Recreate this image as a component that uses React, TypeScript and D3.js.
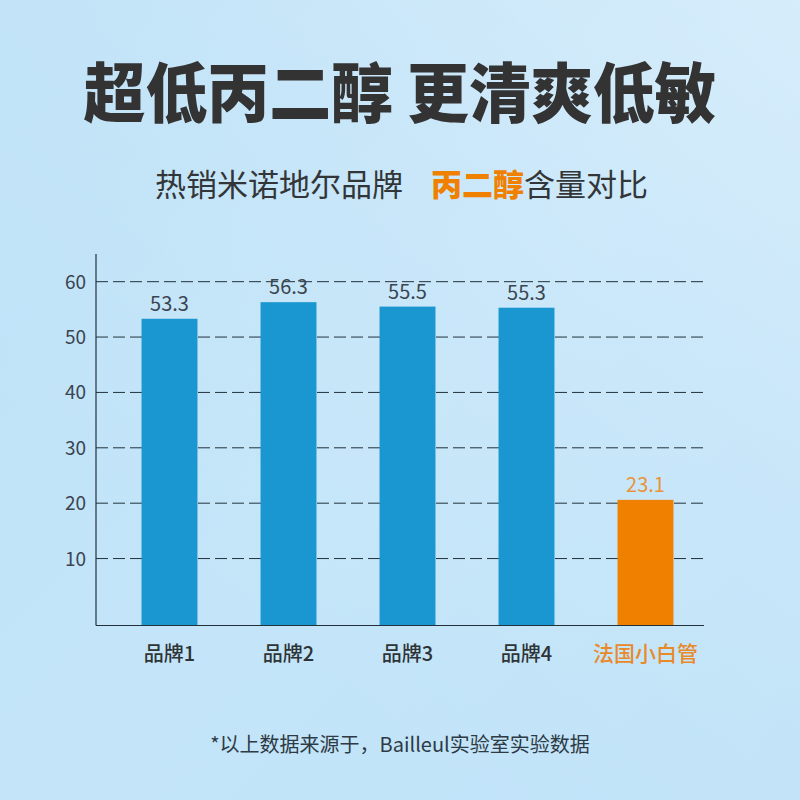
import React from "react";
import * as d3 from "d3";

const categories = ["品牌1", "品牌2", "品牌3", "品牌4", "法国小白管"];
const valueLabels = ["53.3", "56.3", "55.5", "55.3", "23.1"];
const barValues = [53.3, 56.3, 55.5, 55.3, 20.6];
const highlight = [false, false, false, false, true];
const yTicks = [10, 20, 30, 40, 50, 60];

const W = 800;
const H = 800;
const FONT = "'Noto Sans CJK SC', 'Noto Sans', sans-serif";

export default function App() {
  const x = d3
    .scaleBand<string>()
    .domain(categories)
    .range([110, 705])
    .paddingInner(0.53)
    .paddingOuter(0.265);
  const y = d3.scaleLinear().domain([-2, 65]).range([625, 254]);
  const axisLeft = 96;
  const axisRight = 704;
  const blue = "#1a96d0";
  const orange = "#f08000";
  const dark = "#333638";

  return (
    <svg
      width={W}
      height={H}
      style={{ display: "block", position: "absolute", left: 0, top: 0 }}
      fontFamily={FONT}
    >
      <defs>
        <linearGradient id="bg" x1="0" y1="0" x2="1" y2="1">
          <stop offset="0" stopColor="#bde1f7" />
          <stop offset="0.5" stopColor="#c4e5f9" />
          <stop offset="1" stopColor="#bfe2f8" />
        </linearGradient>
        <linearGradient id="streak" x1="1" y1="0" x2="0.3" y2="0.8">
          <stop offset="0" stopColor="#ffffff" stopOpacity="0.3" />
          <stop offset="0.5" stopColor="#ffffff" stopOpacity="0.1" />
          <stop offset="1" stopColor="#ffffff" stopOpacity="0" />
        </linearGradient>
      </defs>
      <rect x={0} y={0} width={W} height={H} fill="url(#bg)" />
      <rect x={0} y={0} width={W} height={H} fill="url(#streak)" />

      <text
        x={400}
        y={117}
        textAnchor="middle"
        fontSize={65}
        fontWeight={900}
        fill="#333333"
        textLength={633}
        lengthAdjust="spacingAndGlyphs"
      >
        超低丙二醇 更清爽低敏
      </text>

      <text x={155} y={196} fontSize={31} fill={dark}>
        <tspan>热销米诺地尔品牌</tspan>
        <tspan dx={28} fill={orange} fontWeight={900}>
          丙二醇
        </tspan>
        <tspan>含量对比</tspan>
      </text>

      {/* gridlines */}
      {yTicks.map((t) => (
        <line
          key={t}
          x1={axisLeft}
          x2={axisRight}
          y1={y(t)}
          y2={y(t)}
          stroke="#22313c"
          strokeWidth={1}
          strokeDasharray="12,5"
        />
      ))}
      {yTicks.map((t) => (
        <text
          key={"l" + t}
          x={86}
          y={y(t) + 7}
          textAnchor="end"
          fontSize={19}
          fill="#3a4550"
        >
          {t}
        </text>
      ))}

      {/* bars */}
      {categories.map((c, i) => (
        <rect
          key={c}
          x={x(c)}
          y={y(barValues[i])}
          width={x.bandwidth()}
          height={y(-2) - y(barValues[i])}
          fill={highlight[i] ? orange : blue}
        />
      ))}
      {categories.map((c, i) => (
        <text
          key={"v" + c}
          x={(x(c) as number) + x.bandwidth() / 2}
          y={y(barValues[i]) - 8}
          textAnchor="middle"
          fontSize={20}
          fill={highlight[i] ? "#e8943a" : "#3a4550"}
        >
          {valueLabels[i]}
        </text>
      ))}

      {/* axes */}
      <line x1={axisLeft} x2={axisLeft} y1={254} y2={625.5} stroke="#22313c" strokeWidth={1.2} />
      <line x1={axisLeft} x2={axisRight} y1={625.5} y2={625.5} stroke="#22313c" strokeWidth={1.2} />

      {categories.map((c, i) => (
        <text
          key={"c" + c}
          x={(x(c) as number) + x.bandwidth() / 2}
          y={661}
          textAnchor="middle"
          fontSize={highlight[i] ? 21 : 20}
          fontWeight={500}
          fill={highlight[i] ? "#e8892a" : "#2e3336"}
        >
          {c}
        </text>
      ))}

      <text x={400} y={752} textAnchor="middle" fontSize={20} fill="#2e3a44">
        *以上数据来源于，Bailleul实验室实验数据
      </text>
    </svg>
  );
}
